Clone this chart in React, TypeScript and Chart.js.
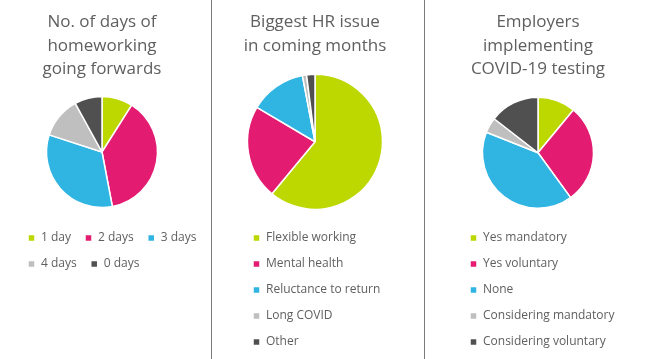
import React, { useEffect, useRef } from 'react';
import { Chart, registerables } from 'chart.js';

Chart.register(...registerables);

const daysTitle = ['No. of days of', 'homeworking', 'going forwards'];
const daysLabels = ['1 day', '2 days', '3 days', '4 days', '0 days'];
const daysValues = [9, 38, 33, 12, 8];

const issueTitle = ['Biggest HR issue', 'in coming months'];
const issueLabels = ['Flexible working', 'Mental health', 'Reluctance to return', 'Long COVID', 'Other'];
const issueValues = [61, 22.5, 13.5, 1, 2];

const testingTitle = ['Employers', 'implementing', 'COVID-19 testing'];
const testingLabels = ['Yes mandatory', 'Yes voluntary', 'None', 'Considering mandatory', 'Considering voluntary'];
const testingValues = [11, 29, 41, 4.5, 14.5];

const sliceColors = ['#BDD700', '#E31C71', '#30B4E2', '#BFBFBF', '#505050'];
const textColor = '#5f5f5f';
const FONT = "'Open Sans', 'Noto Sans', sans-serif";

type PieProps = {
  title: string[];
  labels: string[];
  values: number[];
  left: number;
  width: number;
  height: number;
  radius: number;
  spacer: number;
  padTop: number;
  padBottom: number;
};

function PiePanel(p: PieProps) {
  const ref = useRef<HTMLCanvasElement | null>(null);
  useEffect(() => {
    if (!ref.current) return;
    const chart = new Chart(ref.current, {
      type: 'pie',
      data: {
        labels: p.labels,
        datasets: [
          {
            data: p.values,
            backgroundColor: sliceColors,
            borderColor: '#ffffff',
            borderWidth: 1.5,
            radius: p.radius,
          } as any,
        ],
      },
      options: {
        responsive: false,
        animation: false,
        events: [],
        layout: { padding: 0 },
        plugins: {
          tooltip: { enabled: false },
          title: {
            display: true,
            text: p.title,
            fullSize: false,
            color: textColor,
            font: { family: FONT, size: 17, weight: 'normal', lineHeight: '23.5px' },
            padding: { top: p.padTop, bottom: p.padBottom },
          },
          subtitle: {
            display: p.spacer > 0,
            position: 'right',
            text: '',
            padding: 0,
            font: { family: FONT, size: 10, lineHeight: p.spacer + 'px' },
          },
          legend: {
            display: true,
            position: 'bottom',
            align: 'start',
            labels: {
              color: textColor,
              font: { family: FONT, size: 12 },
              boxWidth: 7,
              boxHeight: 7,
              padding: 14,
            },
          },
        },
      } as any,
    });
    return () => chart.destroy();
  }, []);
  return (
    <canvas
      ref={ref}
      width={p.width}
      height={p.height}
      style={{ position: 'absolute', left: p.left, top: 0, width: p.width, height: p.height }}
    />
  );
}

export default function App() {
  return (
    <div
      style={{
        position: 'absolute',
        left: 0,
        top: 0,
        width: 650,
        height: 359,
        background: '#ffffff',
        overflow: 'hidden',
      }}
    >
      <PiePanel title={daysTitle} labels={daysLabels} values={daysValues} left={14} width={215} height={280} radius={55.5} spacer={39} padTop={10.75} padBottom={4.75} />
      <PiePanel title={issueTitle} labels={issueLabels} values={issueValues} left={239} width={152} height={358} radius={67.5} spacer={0} padTop={10.75} padBottom={7.75} />
      <PiePanel title={testingTitle} labels={testingLabels} values={testingValues} left={456} width={164} height={358} radius={55.5} spacer={0} padTop={10.75} padBottom={6.25} />
      <div style={{ position: 'absolute', left: 211, top: 0, width: 1, height: 359, background: '#7a7a7a' }} />
      <div style={{ position: 'absolute', left: 424, top: 0, width: 1, height: 359, background: '#7a7a7a' }} />
    </div>
  );
}
